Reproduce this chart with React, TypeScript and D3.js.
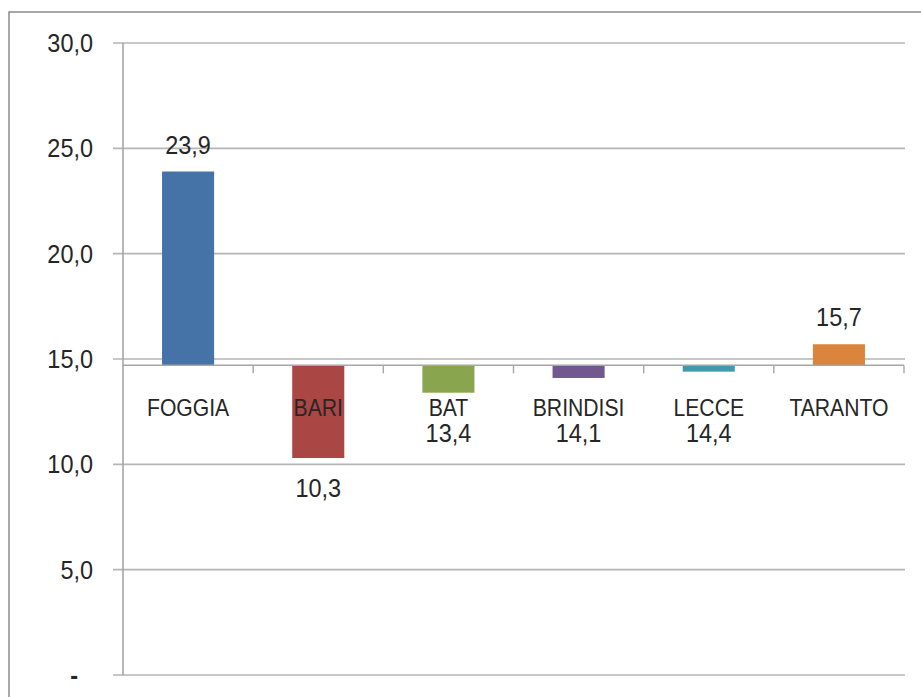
import React from 'react'
import * as d3 from 'd3'

const categories = ['FOGGIA', 'BARI', 'BAT', 'BRINDISI', 'LECCE', 'TARANTO']
const values = [23.9, 10.3, 13.4, 14.1, 14.4, 15.7]
const colors = ['#4572A7', '#AA4643', '#89A54E', '#71588F', '#4198AF', '#DB843D']
const yTicks = [0, 5, 10, 15, 20, 25, 30]
const crossAt = 14.7

const width = 921
const height = 697
const margin = { top: 43, right: 17, bottom: 22, left: 123 }

const fmt = (v: number) => (v === 0 ? '-' : d3.format('.1f')(v).replace('.', ','))

// narrow-ish text, Calibri look-alike: bigger size squeezed horizontally
const Label = ({ x, y, anchor = 'middle', size, sx, children, bold = false }: any) => (
  <text
    transform={`translate(${x},${y}) scale(${sx},1)`}
    textAnchor={anchor}
    fontFamily='Liberation Sans, Arial, sans-serif'
    fontSize={size}
    fontWeight={bold ? 'bold' : 'normal'}
    fill='#262626'
  >
    {children}
  </text>
)

const App = () => {
  const x = d3.scaleBand()
    .domain(categories)
    .range([margin.left, width - margin.right])
    .paddingInner(0.6)
    .paddingOuter(0.3)

  const step = x.step()
  const bandLeft = (c: string) => (x(c) as number) - step * 0.3
  const center = (c: string) => (x(c) as number) + x.bandwidth() / 2

  const y = d3.scaleLinear()
    .domain([0, 30])
    .range([height - margin.bottom, margin.top])

  const axisY = y(crossAt)
  const right = width - margin.right

  return (
    <svg width={width} height={height} style={{ position: 'absolute', left: 0, top: 0 }}>
      <rect width={width} height={height} fill='#fff' />
      {/* chart frame */}
      <path d={`M9,${height + 5}V12H${width + 5}`} fill='none' stroke='#8c8c8c' strokeWidth={1.5} />

      {/* gridlines + y labels */}
      {yTicks.map(t => (
        <g key={t}>
          <line x1={margin.left - 10} x2={right + 1} y1={y(t)} y2={y(t)} stroke='#b5b5b5' strokeWidth={1.6} />
          <Label x={t === 0 ? 78 : 93} y={y(t) + 9} anchor='end' size={25.5} sx={0.92} bold={t === 0}>
            {fmt(t)}
          </Label>
        </g>
      ))}

      {/* y axis */}
      <line x1={margin.left} x2={margin.left} y1={y(30)} y2={y(0)} stroke='#a6a6a6' strokeWidth={1.6} />

      {/* bars */}
      {categories.map((c, i) => {
        const v = values[i]
        const y0 = Math.min(y(v), axisY)
        const y1 = Math.max(y(v), axisY)
        return (
          <rect key={c} x={x(c)} width={x.bandwidth()} y={y0} height={y1 - y0} fill={colors[i]} />
        )
      })}

      {/* category axis */}
      <line x1={margin.left} x2={right} y1={axisY} y2={axisY} stroke='#a6a6a6' strokeWidth={1.6} />
      {categories.map(c => (
        <line key={c} x1={bandLeft(c) + step} x2={bandLeft(c) + step} y1={axisY} y2={axisY + 8} stroke='#a6a6a6' strokeWidth={1.4} />
      ))}
      {categories.map(c => (
        <Label key={c} x={center(c)} y={axisY + 51} size={23.5} sx={0.9}>
          {c}
        </Label>
      ))}

      {/* value labels */}
      {categories.map((c, i) => {
        const v = values[i]
        const ly = v >= crossAt
          ? y(v) - 18
          : Math.max(y(v) + 39, axisY + 77)
        return (
          <Label key={c} x={center(c)} y={ly} size={25.5} sx={0.92}>
            {fmt(v)}
          </Label>
        )
      })}
    </svg>
  )
}

export default App
